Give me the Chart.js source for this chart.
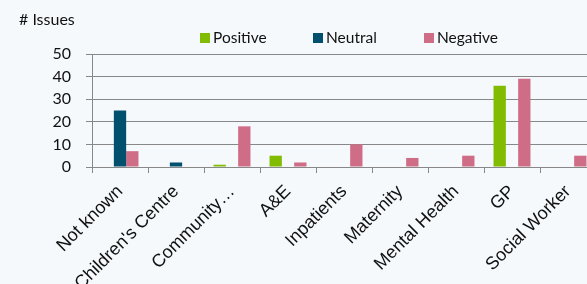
<!DOCTYPE html>
<html>
<head>
<meta charset="utf-8">
<script src="https://cdn.jsdelivr.net/npm/chart.js@4"></script>
<style>
  html, body { margin: 0; padding: 0; background: #f5f9fc; overflow: hidden; }
  #wrap { position: relative; width: 587px; height: 284px; overflow: hidden; }
  #chart { position: absolute; left: 0; top: 0; }
  .txt { position: absolute; font-family: Lato, "Open Sans", sans-serif; color: #111; white-space: nowrap; }
  #yTitle { left: 19px; top: 9px; font-size: 16px; }
  .leg { top: 28px; font-size: 15.5px; line-height: 18px; }
  .leg i { display: inline-block; width: 10px; height: 10px; margin-right: 3px; vertical-align: 0px; }
</style>
</head>
<body>
<div id="wrap">
  <canvas id="chart" width="600" height="284"></canvas>
  <div id="yTitle" class="txt"># Issues</div>
  <div id="legend"></div>
</div>
<script>
const categories = ['Not known', "Children's Centre", 'Community…', 'A&E', 'Inpatients', 'Maternity', 'Mental Health', 'GP', 'Social Worker'];
const positive = [0, 0, 1, 5, 0, 0, 0, 36, 0];
const neutral = [25, 2, 0, 0, 0, 0, 0, 0, 0];
const negative = [7, 0, 18, 2, 10, 4, 5, 39, 5];
const seriesNames = ['Positive', 'Neutral', 'Negative'];
const seriesColors = ['#82bc00', '#00506e', '#d06d86'];
const yTicks = [0, 10, 20, 30, 40, 50];

const gridGray = '#888888';

function buildLegend() {
    const lefts = [200, 313, 424];
    const box = document.getElementById('legend');
    seriesNames.forEach((name, i) => {
        const el = document.createElement('div');
        el.className = 'txt leg';
        el.style.left = lefts[i] + 'px';
        el.innerHTML = '<i style="background:' + seriesColors[i] + '"></i>' + name;
        box.appendChild(el);
    });
}

function initChart() {
    const ctx = document.getElementById('chart').getContext('2d');
    const values = [positive, neutral, negative];
    new Chart(ctx, {
        type: 'bar',
        data: {
            labels: categories,
            datasets: seriesNames.map((name, i) => ({
                label: name,
                data: values[i],
                backgroundColor: seriesColors[i],
                categoryPercentage: 0.66,
                barPercentage: 1
            }))
        },
        options: {
            responsive: false,
            animation: false,
            devicePixelRatio: 1,
            layout: { padding: { top: 54, right: 4, left: 0, bottom: 0 } },
            plugins: {
                legend: { display: false },
                tooltip: { enabled: false }
            },
            scales: {
                x: {
                    grid: {
                        drawOnChartArea: false,
                        drawTicks: true,
                        tickLength: 6,
                        color: gridGray,
                        offset: true
                    },
                    border: { color: gridGray },
                    ticks: {
                        autoSkip: false,
                        minRotation: 45,
                        maxRotation: 45,
                        padding: 8,
                        color: '#111',
                        font: { family: '"Liberation Sans", Arial, sans-serif', size: 18 }
                    },
                    afterFit: (scale) => { scale.height = 117; }
                },
                y: {
                    min: 0,
                    max: 50,
                    afterBuildTicks: (scale) => { scale.ticks = yTicks.map(v => ({ value: v })); },
                    grid: { color: gridGray, tickLength: 6, lineWidth: 1 },
                    border: { color: gridGray },
                    ticks: {
                        padding: 15,
                        color: '#111',
                        font: { family: 'Lato, sans-serif', size: 16 }
                    },
                    afterFit: (scale) => { scale.width = 92; }
                }
            }
        }
    });
}

document.addEventListener('DOMContentLoaded', () => {
    buildLegend();
    initChart();
});
</script>
</body>
</html>
